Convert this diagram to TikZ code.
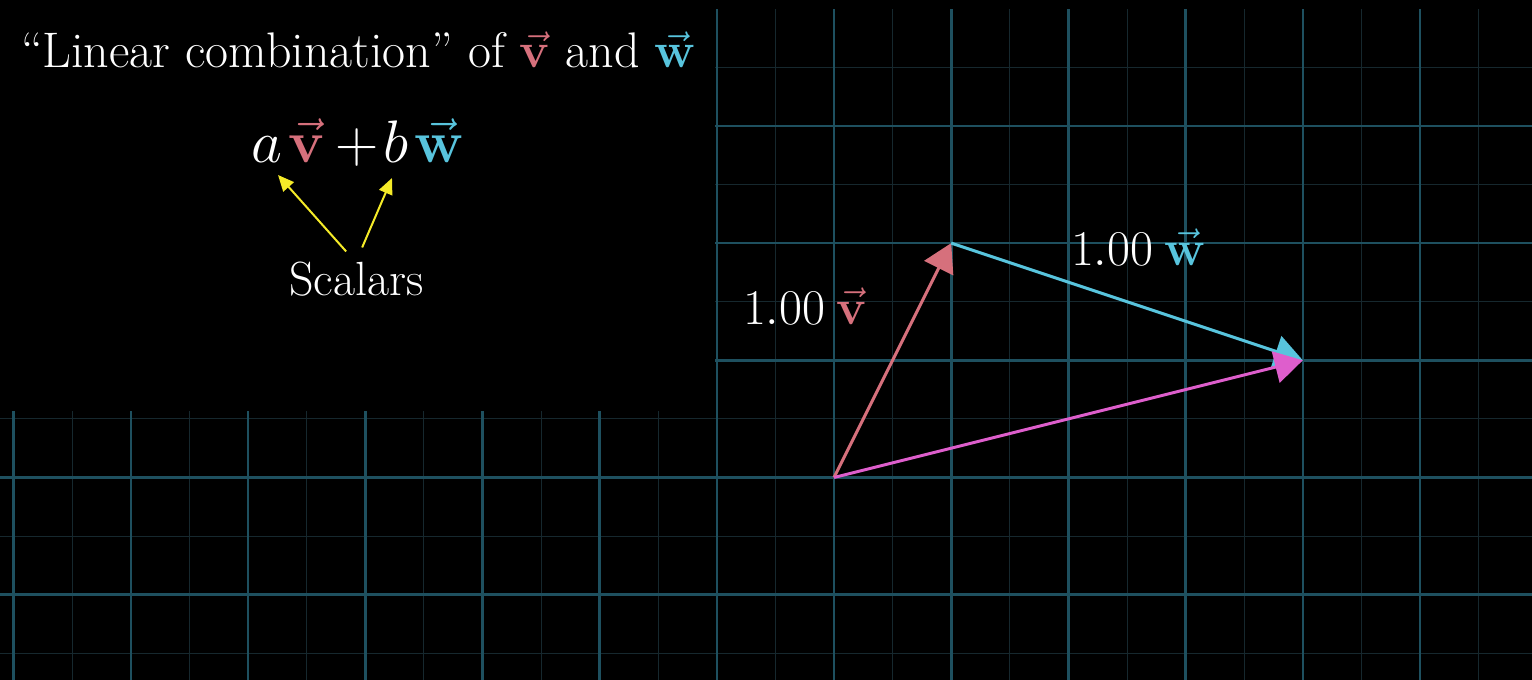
\RequirePackage{fix-cm}
\documentclass[tikz,border=0pt]{standalone}
\usetikzlibrary{arrows.meta}
\definecolor{vcol}{RGB}{214,112,124}
\definecolor{wcol}{RGB}{88,196,221}
\definecolor{scol}{RGB}{222,94,204}
\definecolor{gmaj}{RGB}{30,80,95}
\definecolor{gmin}{RGB}{22,40,46}
\definecolor{ycol}{RGB}{245,235,40}
\begin{document}
\begin{tikzpicture}[x=0.5pt,y=-0.5pt,
  txt/.style={inner sep=0pt, outer sep=0pt, text=white, anchor=base west},
  vecarrow/.style={line width=1.5pt, -{Triangle[length=14pt,width=16pt]}},
  yarrow/.style={ycol, line width=1pt, -{Triangle[length=8pt,width=7pt]}},
  minorline/.style={gmin, line width=0.5pt},
  majorline/.style={gmaj, line width=1.3pt}]
\useasboundingbox (0,0) rectangle (1532,680);
\fill[black] (0,0) rectangle (1532,680);
% grid
\begin{scope}
\clip (0,9) rectangle (1532,680);
\foreach \k in {-7.5,-6.5,...,5.5}
  \draw[minorline] ({834+117.2*\k},9) -- ({834+117.2*\k},680);
\foreach \k in {-1.5,-0.5,...,3.5}
  \draw[minorline] (0,{477.5-117.2*\k}) -- (1532,{477.5-117.2*\k});
\foreach \k in {-7,...,5}
  \draw[majorline] ({834+117.2*\k},9) -- ({834+117.2*\k},680);
\foreach \k in {-1,...,3}
  \draw[majorline] (0,{477.5-117.2*\k}) -- (1532,{477.5-117.2*\k});
\end{scope}
\fill[black] (0,0) rectangle (715,411);
% vectors
\coordinate (O) at (834,477.5);
\coordinate (V) at (951.2,243.1);
\coordinate (S) at (1302.8,360.3);
\draw[vecarrow, vcol] (O) -- (V);
\draw[vecarrow, wcol] (V) -- (S);
\draw[vecarrow, scol] (O) -- (S);
% texts
\node[txt, font=\fontsize{25}{30}\selectfont] (title) at (21,68)
  {``Linear combination'' of \textcolor{vcol}{$\vec{\mathbf{v}}$} and \textcolor{wcol}{$\vec{\mathbf{w}}$}};
\node[txt, font=\fontsize{30}{35}\selectfont] (formula) at (251,162)
  {$a\mkern2mu\textcolor{vcol}{\vec{\mathbf{v}}}\mkern3mu{+}\mkern1.5mu b\mkern2mu\textcolor{wcol}{\vec{\mathbf{w}}}$};
\node[txt, font=\fontsize{24}{28}\selectfont] (scalars) at (289,295) {Scalars};
\coordinate (atip) at (278,175);
\coordinate (btip) at (392,178);
\draw[yarrow] ([shift={(-10,-10)}]scalars.north) -- (atip);
\draw[yarrow] ([shift={(6,-14)}]scalars.north) -- (btip);
\node[txt, font=\fontsize{25}{30}\selectfont] (lv) at (743,324)
  {$1.00\mkern4mu\textcolor{vcol}{\vec{\mathbf{v}}}$};
\node[txt, font=\fontsize{25}{30}\selectfont] (lw) at (1071,265)
  {$1.00\mkern4mu\textcolor{wcol}{\vec{\mathbf{w}}}$};
\end{tikzpicture}
\end{document}
